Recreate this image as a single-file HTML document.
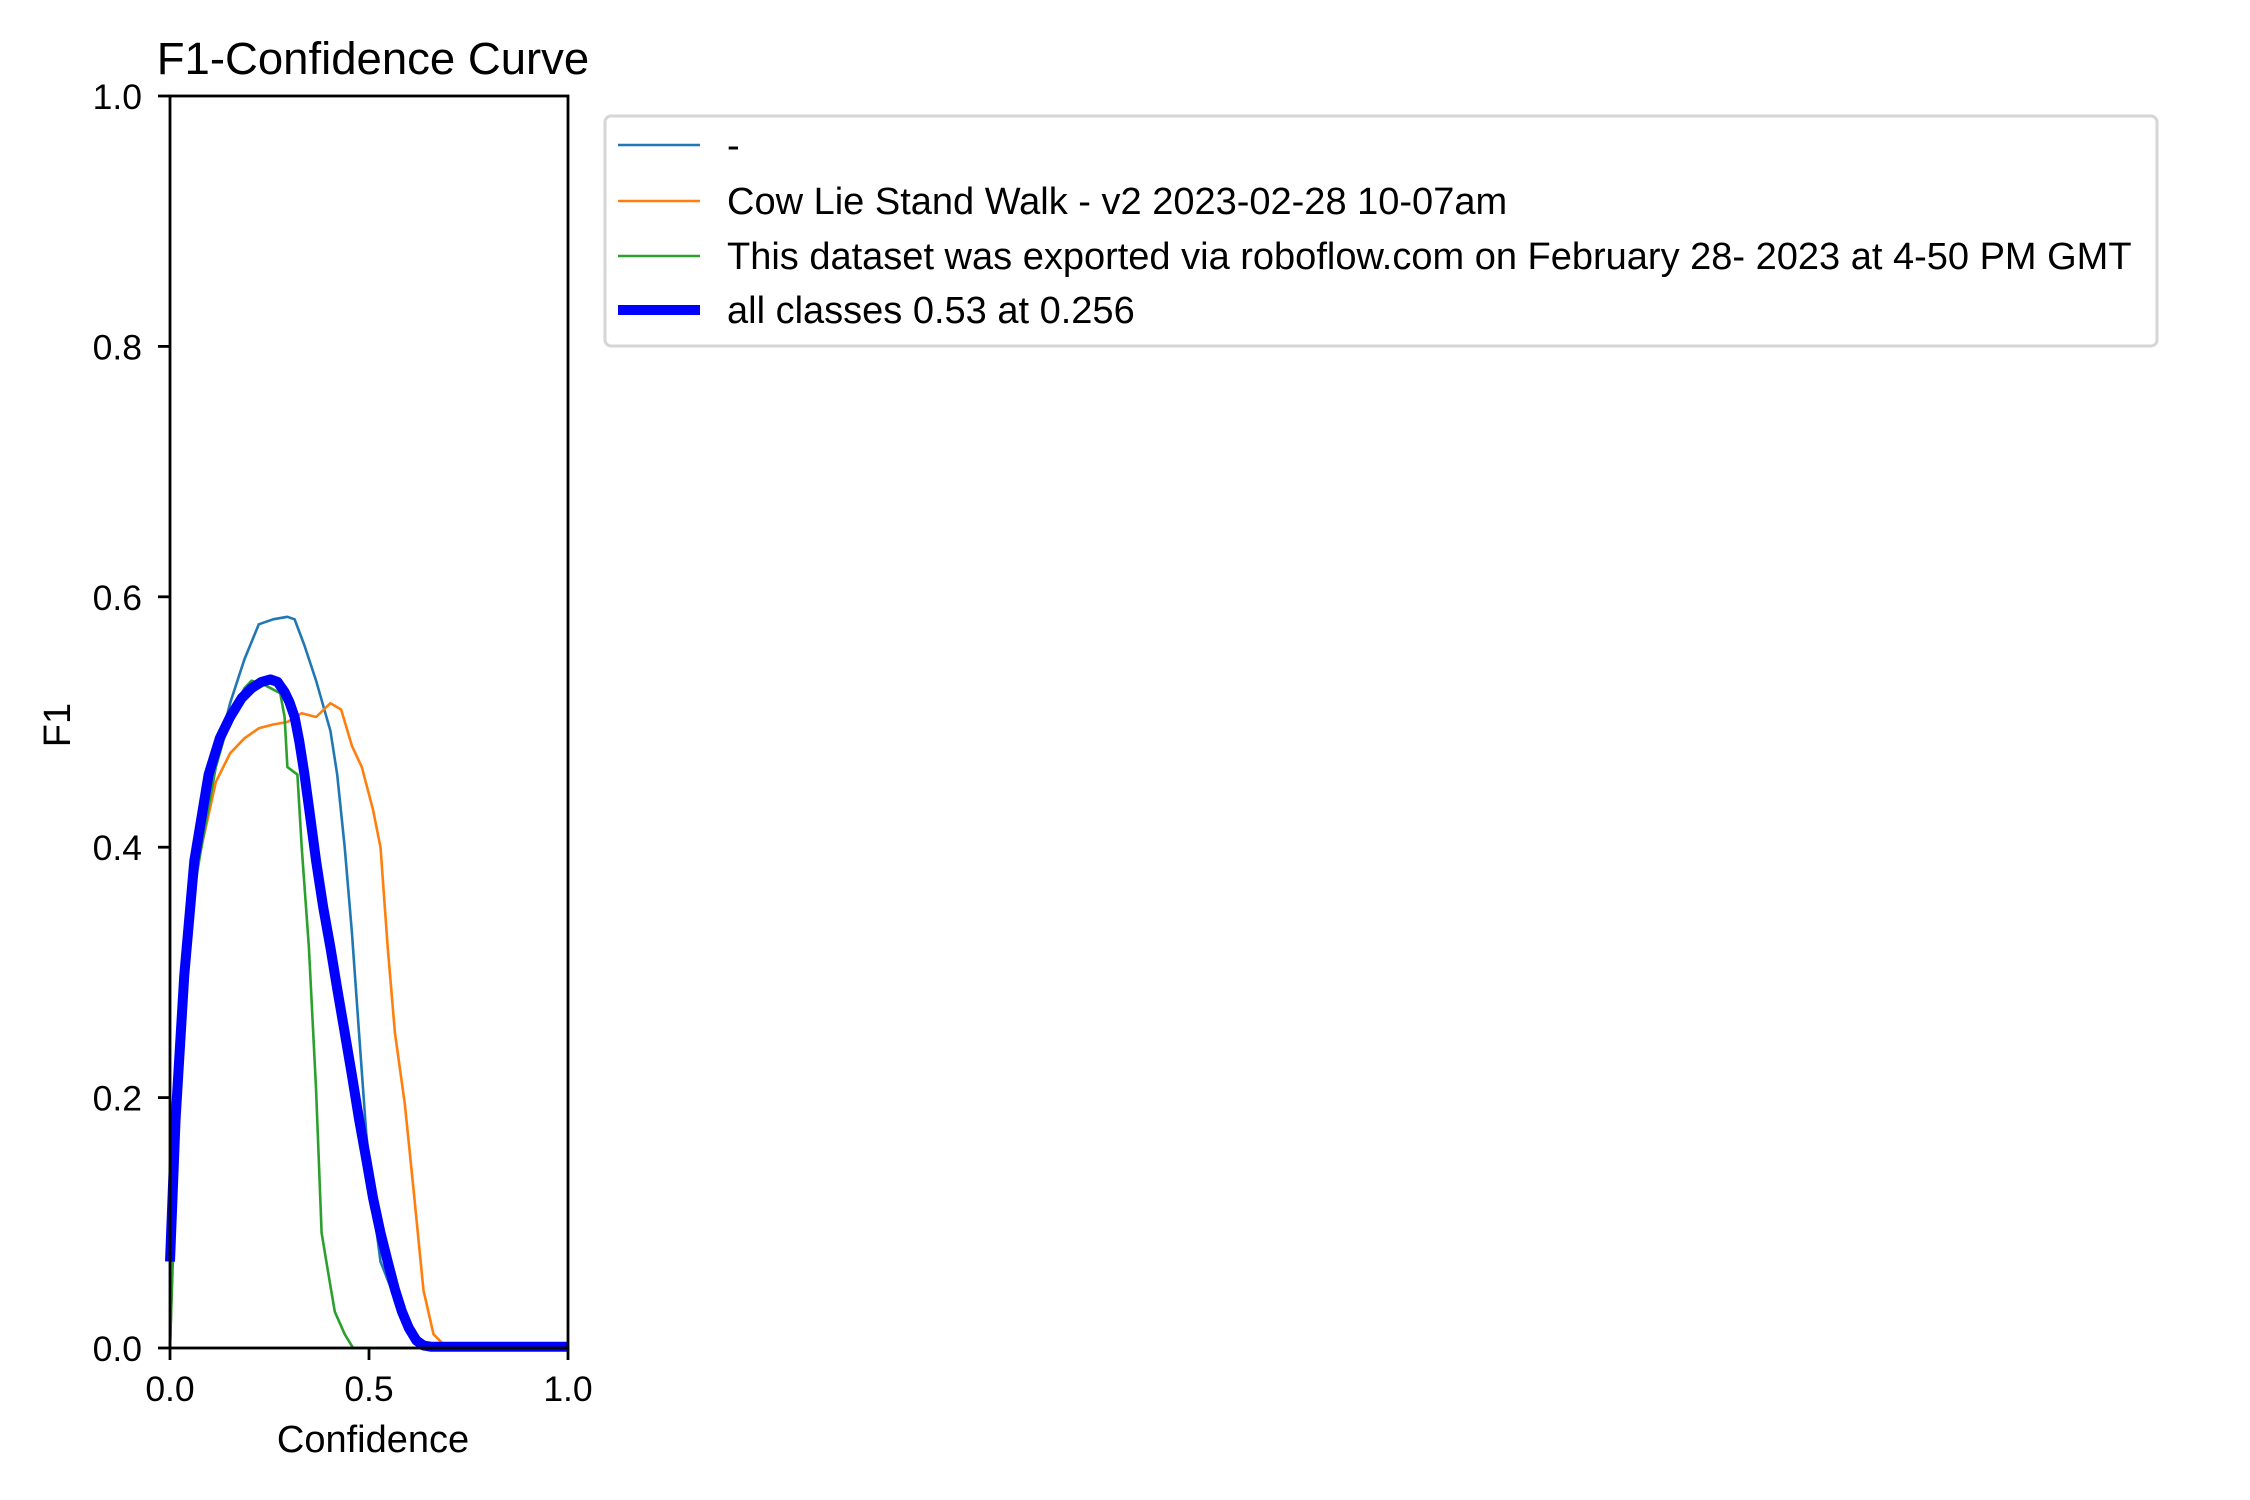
<!DOCTYPE html>
<html><head><meta charset="utf-8">
<style>
html,body{margin:0;padding:0;background:#fff;}
svg{display:block;font-family:"Liberation Sans",Arial,sans-serif;}
</style></head>
<body>
<svg id="chart" width="2250" height="1500" viewBox="0 0 2250 1500" xmlns="http://www.w3.org/2000/svg">
<rect width="2250" height="1500" fill="#fff"/>
<text x="373" y="74" font-size="45.5" text-anchor="middle">F1-Confidence Curve</text>
<g id="series"></g>
<g id="axes"></g>
<text x="373" y="1452" font-size="38" text-anchor="middle">Confidence</text>
<text x="70" y="725" font-size="38" text-anchor="middle" transform="rotate(-90 70 725)">F1</text>
<g>
<rect x="605" y="116" width="1552" height="230" rx="6" fill="#fff" stroke="#d6d6d6" stroke-width="3"/>
<line x1="618" y1="145" x2="700" y2="145" stroke="#1f77b4" stroke-width="2.6"/>
<text x="727" y="158" font-size="38">-</text>
<line x1="618" y1="201" x2="700" y2="201" stroke="#ff7f0e" stroke-width="2.6"/>
<text x="727" y="214" font-size="38">Cow Lie Stand Walk - v2 2023-02-28 10-07am</text>
<line x1="618" y1="256" x2="700" y2="256" stroke="#2ca02c" stroke-width="2.6"/>
<text x="727" y="269" font-size="38">This dataset was exported via roboflow.com on February 28- 2023 at 4-50 PM GMT</text>
<line x1="618" y1="310" x2="700" y2="310" stroke="#0000ff" stroke-width="10"/>
<text x="727" y="323" font-size="38">all classes 0.53 at 0.256</text>
</g>
</svg>
<script>
const xTicks = [0, 0.5, 1.0];
const xTickLabels = ["0.0", "0.5", "1.0"];
const yTicks = [0, 0.2, 0.4, 0.6, 0.8, 1.0];
const yTickLabels = ["0.0", "0.2", "0.4", "0.6", "0.8", "1.0"];
const dashX = [0,0.007,0.025,0.043,0.079,0.115,0.151,0.187,0.223,0.259,0.295,0.313,0.338,0.367,0.403,0.42,0.439,0.457,0.475,0.493,0.51,0.529,0.565,0.6,0.637,0.655,1.0];
const dashY = [0,0.08,0.252,0.344,0.40,0.47,0.515,0.55,0.578,0.582,0.584,0.582,0.561,0.533,0.493,0.458,0.40,0.332,0.252,0.172,0.115,0.069,0.04,0.017,0.002,0,0];
const cowX = [0,0.007,0.025,0.043,0.079,0.115,0.151,0.187,0.223,0.259,0.295,0.331,0.367,0.403,0.43,0.457,0.482,0.51,0.529,0.547,0.565,0.59,0.612,0.637,0.662,0.69,0.72,1.0];
const cowY = [0,0.08,0.252,0.344,0.40,0.452,0.475,0.487,0.495,0.498,0.50,0.507,0.504,0.515,0.51,0.481,0.464,0.43,0.40,0.32,0.252,0.195,0.126,0.046,0.011,0.002,0,0];
const dataX = [0,0.007,0.025,0.043,0.079,0.115,0.151,0.187,0.205,0.241,0.277,0.288,0.295,0.32,0.331,0.349,0.367,0.381,0.396,0.414,0.439,0.46,1.0];
const dataY = [0,0.069,0.229,0.332,0.40,0.464,0.504,0.527,0.533,0.529,0.523,0.504,0.464,0.458,0.40,0.32,0.206,0.092,0.063,0.029,0.011,0,0];
const allX = [0,0.014,0.036,0.061,0.097,0.125,0.151,0.18,0.205,0.23,0.252,0.27,0.288,0.3,0.313,0.325,0.338,0.352,0.367,0.385,0.403,0.42,0.439,0.457,0.475,0.493,0.51,0.529,0.547,0.565,0.583,0.6,0.619,0.637,0.655,0.7,1.0];
const allY = [0.069,0.183,0.298,0.389,0.458,0.487,0.504,0.519,0.527,0.532,0.534,0.532,0.524,0.516,0.504,0.484,0.458,0.425,0.389,0.352,0.32,0.287,0.252,0.218,0.183,0.151,0.12,0.092,0.069,0.047,0.029,0.016,0.006,0.002,0.001,0.001,0.001];

const L=170,R=568,T=96,B=1348;
const sx = v => L + v*(R-L);
const sy = v => B - v*(B-T);
const NS="http://www.w3.org/2000/svg";
const series=document.getElementById('series');
function addLine(xs,ys,color,w,name){
  const p=document.createElementNS(NS,'polyline');
  p.setAttribute('points', xs.map((x,i)=>sx(x).toFixed(1)+','+sy(ys[i]).toFixed(1)).join(' '));
  p.setAttribute('fill','none');p.setAttribute('stroke',color);p.setAttribute('stroke-width',w);
  p.setAttribute('stroke-linejoin','round');
  
  
  series.appendChild(p);
}
addLine(dashX,dashY,'#1f77b4',2.6,'line-dash-class');
addLine(cowX,cowY,'#ff7f0e',2.6,'line-cow-class');
addLine(dataX,dataY,'#2ca02c',2.6,'line-dataset-class');
addLine(allX,allY,'#0000ff',10,'line-all-classes');

const axes=document.getElementById('axes');
const frame=document.createElementNS(NS,'rect');
frame.setAttribute('x',L);frame.setAttribute('y',T);frame.setAttribute('width',R-L);frame.setAttribute('height',B-T);
frame.setAttribute('fill','none');frame.setAttribute('stroke','#000');frame.setAttribute('stroke-width',2.8);


axes.appendChild(frame);
xTicks.forEach((v,i)=>{
  const l=document.createElementNS(NS,'line');
  l.setAttribute('x1',sx(v));l.setAttribute('x2',sx(v));l.setAttribute('y1',B);l.setAttribute('y2',B+12);
  l.setAttribute('stroke','#000');l.setAttribute('stroke-width',2.8);
  
  
  axes.appendChild(l);
  const t=document.createElementNS(NS,'text');
  t.setAttribute('x',sx(v));t.setAttribute('y',1401);t.setAttribute('font-size','35.5');t.setAttribute('text-anchor','middle');
  t.textContent=xTickLabels[i];
  
  
  axes.appendChild(t);
});
yTicks.forEach((v,i)=>{
  const l=document.createElementNS(NS,'line');
  l.setAttribute('x1',L-12);l.setAttribute('x2',L);l.setAttribute('y1',sy(v));l.setAttribute('y2',sy(v));
  l.setAttribute('stroke','#000');l.setAttribute('stroke-width',2.8);
  
  
  axes.appendChild(l);
  const t=document.createElementNS(NS,'text');
  t.setAttribute('x',L-28);t.setAttribute('y',sy(v)+13);t.setAttribute('font-size','35.5');t.setAttribute('text-anchor','end');
  t.textContent=yTickLabels[i];
  
  
  axes.appendChild(t);
});
</script>
</body></html>
